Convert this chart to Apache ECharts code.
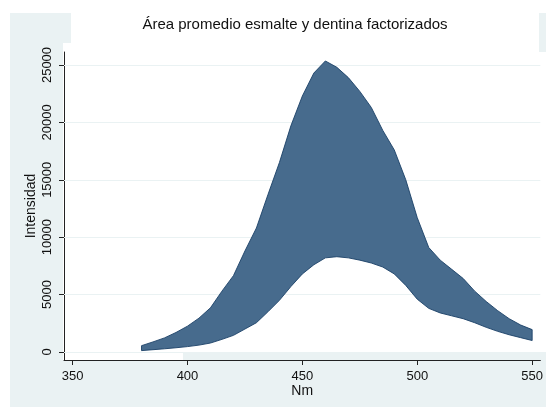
<!DOCTYPE html>
<html>
<head>
<meta charset="utf-8">
<script src="https://cdn.jsdelivr.net/npm/echarts@6/dist/echarts.min.js"></script>
<style>
  html, body { margin: 0; padding: 0; background: #ffffff; }
  #chart { width: 546px; height: 410px; }
</style>
</head>
<body>
<div id="chart"></div>
<script>
// Wavelength samples (nm)
const nm = [380, 385, 390, 395, 400, 405, 410, 415, 420, 425, 430, 435, 440, 445, 450, 455, 460, 465,
            470, 475, 480, 485, 490, 495, 500, 505, 510, 515, 520, 525, 530, 535, 540, 545, 550];
// Lower and upper bounds of the averaged intensity band
const lower = [120, 200, 280, 370, 470, 600, 780, 1100, 1450, 2000, 2550, 3500, 4500, 5700, 6800, 7600, 8200, 8300,
               8200, 8000, 7750, 7400, 6800, 5800, 4600, 3800, 3400, 3150, 2900, 2550, 2150, 1800, 1500, 1250, 1000];
const upper = [550, 880, 1230, 1700, 2250, 2950, 3850, 5300, 6650, 8800, 10800, 13700, 16500, 19700, 22300, 24300, 25350, 24800,
               23900, 22700, 21300, 19300, 17600, 15000, 11700, 9100, 8000, 7200, 6400, 5300, 4400, 3600, 2900, 2350, 1950];
// Axis ticks
const xTicks = [350, 400, 450, 500, 550];
const yTicks = [0, 5000, 10000, 15000, 20000, 25000];

const titleText = 'Área promedio esmalte y dentina factorizados';
const FONT = 'Liberation Sans, Arial, sans-serif';
const BG = '#eaf2f3';

const chart = echarts.init(document.getElementById('chart'), null, { renderer: 'canvas' });

const bandData = nm.map((x, i) => [x, lower[i], upper[i]]);
const plain = v => String(v);

chart.setOption({
  animation: false,
  backgroundColor: '#ffffff',
  title: {
    text: titleText,
    left: 290, top: 12, textAlign: 'center',
    textStyle: { fontFamily: FONT, fontSize: 15, fontWeight: 'normal', color: '#111' }
  },
  graphic: [
    { type: 'rect', z: -10, silent: true, shape: { x: 10, y: 13, width: 536, height: 394 }, style: { fill: BG } },
    { type: 'rect', z: -9, silent: true, shape: { x: 71, y: 13, width: 468, height: 39 }, style: { fill: '#fff' } },
    { type: 'rect', z: -9, silent: true, shape: { x: 63, y: 43, width: 476, height: 9 }, style: { fill: '#fff' } },
    { type: 'rect', z: -9, silent: true, shape: { x: 63, y: 52, width: 483, height: 300 }, style: { fill: '#fff' } },
    { type: 'rect', z: -9, silent: true, shape: { x: 63, y: 352, width: 120, height: 8 }, style: { fill: '#fff' } }
  ],
  grid: { left: 64, right: 0, top: 52, bottom: 50, containLabel: false },
  xAxis: {
    type: 'value',
    min: 346.26, max: 553.57,
    name: 'Nm', nameLocation: 'middle', nameGap: 24, nameMoveOverlap: false,
    nameTextStyle: { fontFamily: FONT, fontSize: 14, color: '#111' },
    axisLine: { show: true, onZero: false, lineStyle: { color: '#222', width: 1 } },
    axisTick: { show: true, length: 5, customValues: xTicks, lineStyle: { color: '#222' } },
    axisLabel: { customValues: xTicks, formatter: plain, margin: 10, fontFamily: FONT, fontSize: 13, color: '#111' },
    splitLine: { show: false }
  },
  yAxis: {
    type: 'value',
    min: -697, max: 26132,
    name: 'Intensidad', nameLocation: 'middle', nameGap: 26, nameRotate: 90, nameMoveOverlap: false,
    nameTextStyle: { fontFamily: FONT, fontSize: 14, color: '#111' },
    axisLine: { show: true, onZero: false, lineStyle: { color: '#222', width: 1 } },
    axisTick: { show: true, length: 5, customValues: yTicks, lineStyle: { color: '#222' } },
    axisLabel: { customValues: yTicks, formatter: plain, rotate: 90, margin: 10, fontFamily: FONT, fontSize: 13, color: '#111' },
    splitLine: { show: false }
  },
  series: [
    {
      // horizontal grid lines at the y ticks, kept beneath the band
      type: 'line', data: [], silent: true, z: 1,
      markLine: {
        z: 1, silent: true, symbol: ['none', 'none'], label: { show: false },
        lineStyle: { color: BG, width: 1, type: 'solid' },
        data: yTicks.map(v => ({ yAxis: v }))
      }
    },
    {
      type: 'custom', z: 3, silent: true,
      data: bandData,
      encode: { x: 0, y: [1, 2] },
      renderItem: function (params, api) {
        if (params.dataIndex !== 0) return null;
        const pts = [];
        for (let i = 0; i < nm.length; i++) pts.push(api.coord([nm[i], upper[i]]));
        for (let i = nm.length - 1; i >= 0; i--) pts.push(api.coord([nm[i], lower[i]]));
        return {
          type: 'polygon',
          shape: { points: pts },
          style: { fill: '#476b8d', stroke: '#1a3f66', lineWidth: 0.9 }
        };
      }
    }
  ]
});
</script>
</body>
</html>
